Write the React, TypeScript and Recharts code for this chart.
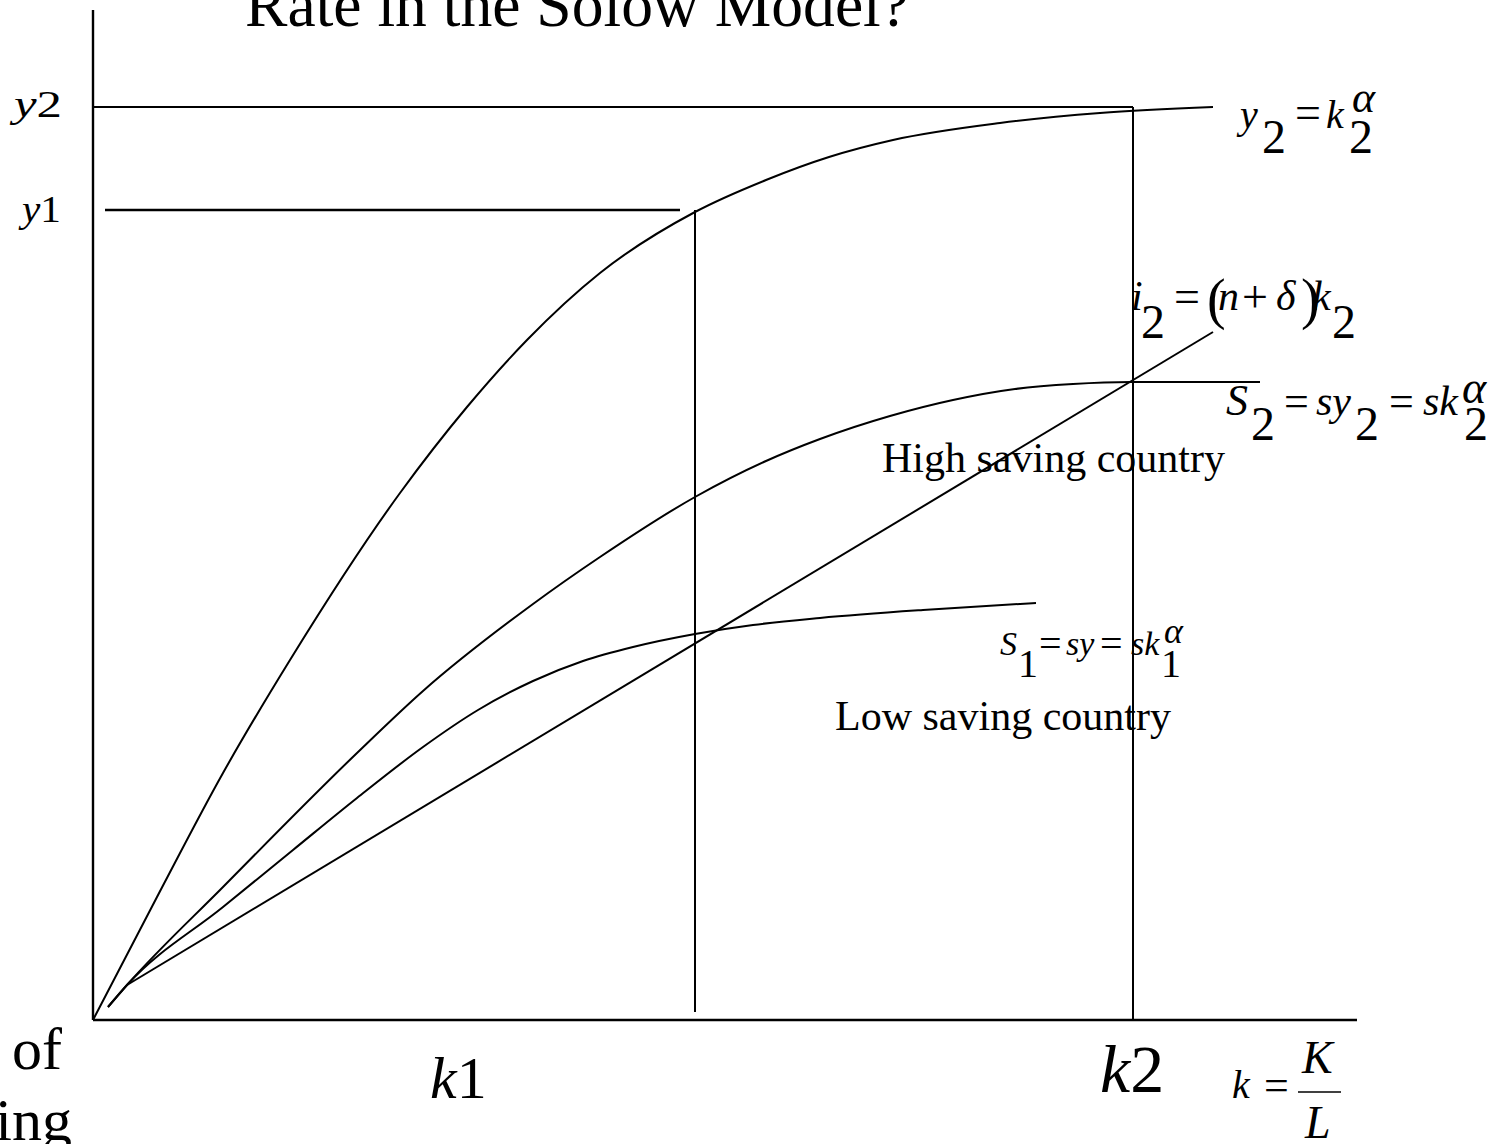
import { ComposedChart, Line, XAxis, YAxis, ReferenceLine } from "recharts";

// capital per worker k = K/L on the horizontal axis, per-worker output / saving on the vertical
const outputK = [0, 6.4, 13, 19.7, 30.7, 37.4, 43.4, 50.7, 60.2, 67.3, 73.6, 80, 90.7, 100.7, 112];
const outputY = [0, 12.3, 24.7, 36, 52.7, 61.3, 68, 74.7, 80.8, 84, 86.3, 88, 89.7, 90.7, 91.3];

const highSavingK = [1.5, 3.4, 13, 26.4, 33, 44, 50.7, 60.2, 67.3, 72.7, 79.7, 86, 92.2, 98, 103.8, 116.7];
const highSavingS = [1.3, 3.5, 13.3, 26.7, 32.9, 41.6, 46.3, 52.3, 55.9, 58.1, 60.4, 62, 63.1, 63.6, 63.8, 63.8];

const lowSavingK = [1.5, 3.4, 13, 20, 26.4, 33, 38.5, 44, 49, 54, 60.2, 66, 72.7, 83, 94.3];
const lowSavingS = [1.3, 3.5, 11.3, 17, 22.2, 27.3, 31, 33.9, 35.9, 37.3, 38.6, 39.5, 40.2, 41, 41.7];

const investK = [3.4, 112];
const investI = [3.5, 68.8];

// steady-state levels
const K1 = 60.2;
const K2 = 104;
const Y1 = 81;
const Y2 = 91.3;

const K_MAX = 126.4;
const Y_MAX = 101;

const zip = (ks: number[], vs: number[]) => ks.map((k, i) => ({ k, v: vs[i] }));

const outputData = zip(outputK, outputY);
const highData = zip(highSavingK, highSavingS);
const lowData = zip(lowSavingK, lowSavingS);
const investData = zip(investK, investI);

const SERIF = "'Liberation Serif', 'Times New Roman', serif";

type Piece = { t: string; x: number; y: number; fs: number; it?: boolean };

const eqY2: Piece[] = [
  { t: "y", x: 1240, y: 128, fs: 40, it: true },
  { t: "2", x: 1262, y: 153, fs: 48 },
  { t: "=", x: 1295, y: 128, fs: 46 },
  { t: "k", x: 1326, y: 128, fs: 40, it: true },
  { t: "α", x: 1352, y: 112, fs: 44, it: true },
  { t: "2", x: 1349, y: 153, fs: 48 },
];

const eqI2: Piece[] = [
  { t: "i", x: 1131, y: 310, fs: 42, it: true },
  { t: "2", x: 1141, y: 338, fs: 48 },
  { t: "=", x: 1174, y: 312, fs: 46 },
  { t: "(", x: 1207, y: 318, fs: 56 },
  { t: "n", x: 1218, y: 310, fs: 42, it: true },
  { t: "+", x: 1242, y: 312, fs: 46 },
  { t: "δ", x: 1276, y: 310, fs: 42, it: true },
  { t: ")", x: 1301, y: 318, fs: 56 },
  { t: "k", x: 1312, y: 310, fs: 42, it: true },
  { t: "2", x: 1332, y: 338, fs: 48 },
];

const eqS2: Piece[] = [
  { t: "S", x: 1226, y: 415, fs: 44, it: true },
  { t: "2", x: 1251, y: 440, fs: 48 },
  { t: "=", x: 1284, y: 416, fs: 44 },
  { t: "sy", x: 1316, y: 415, fs: 42, it: true },
  { t: "2", x: 1355, y: 440, fs: 48 },
  { t: "=", x: 1389, y: 416, fs: 44 },
  { t: "sk", x: 1423, y: 415, fs: 42, it: true },
  { t: "α", x: 1462, y: 403, fs: 46, it: true },
  { t: "2", x: 1464, y: 440, fs: 48 },
];

const eqS1: Piece[] = [
  { t: "S", x: 1000, y: 655, fs: 34, it: true },
  { t: "1", x: 1018, y: 677, fs: 40 },
  { t: "=", x: 1039, y: 657, fs: 40 },
  { t: "sy", x: 1066, y: 655, fs: 34, it: true },
  { t: "=", x: 1100, y: 657, fs: 40 },
  { t: "sk", x: 1131, y: 655, fs: 34, it: true },
  { t: "α", x: 1164, y: 643, fs: 36, it: true },
  { t: "1", x: 1161, y: 677, fs: 40 },
];

function Equation({ pieces }: { pieces: Piece[] }) {
  return (
    <g>
      {pieces.map((p, i) => (
        <text key={i} x={p.x} y={p.y} fontSize={p.fs} fontStyle={p.it ? "italic" : "normal"}>
          {p.t}
        </text>
      ))}
    </g>
  );
}

function Annotations() {
  return (
    <svg
      width={1512}
      height={1144}
      style={{ position: "absolute", left: 0, top: 0, pointerEvents: "none" }}
      fontFamily={SERIF}
      fill="#000"
    >
      <text x={245} y={26} fontSize={64} textLength={664} lengthAdjust="spacingAndGlyphs">
        Rate in the Solow Model?
      </text>

      {/* vertical axis levels */}
      <text x={14} y={117} fontSize={37} textLength={48} lengthAdjust="spacingAndGlyphs">
        <tspan fontStyle="italic">y</tspan>2
      </text>
      <text x={22} y={222} fontSize={37} textLength={39} lengthAdjust="spacingAndGlyphs">
        <tspan fontStyle="italic">y</tspan>1
      </text>

      {/* cut-off text at the left edge */}
      <text x={62} y={1069} fontSize={60} textAnchor="end">of</text>
      <text x={72} y={1140} fontSize={60} textAnchor="end">ing</text>

      {/* horizontal axis labels */}
      <text x={430} y={1098} fontSize={60}>
        <tspan fontStyle="italic">k</tspan>1
      </text>
      <text x={1100} y={1092} fontSize={68}>
        <tspan fontStyle="italic">k</tspan>2
      </text>
      <text x={1232} y={1098} fontSize={40} fontStyle="italic">k</text>
      <text x={1264} y={1100} fontSize={44}>=</text>
      <text x={1302} y={1073} fontSize={46} fontStyle="italic">K</text>
      <line x1={1298} x2={1341} y1={1092} y2={1092} stroke="#000" strokeWidth={1.5} />
      <text x={1305} y={1138} fontSize={46} fontStyle="italic">L</text>

      <Equation pieces={eqY2} />
      <Equation pieces={eqI2} />
      <Equation pieces={eqS2} />
      <Equation pieces={eqS1} />

      <text x={882} y={472} fontSize={42}>High saving country</text>
      <text x={835} y={730} fontSize={42}>Low saving country</text>
    </svg>
  );
}

const curve = { stroke: "#000", strokeWidth: 2, dot: false, activeDot: false, isAnimationActive: false } as const;

export default function App() {
  return (
    <div style={{ position: "absolute", left: 0, top: 0, width: 1512, height: 1144, background: "#fff", overflow: "hidden" }}>
      <ComposedChart width={1512} height={1144} margin={{ top: 10, right: 155, bottom: 124, left: 93 }}>
        <XAxis dataKey="k" type="number" domain={[0, K_MAX]} allowDataOverflow hide />
        <YAxis type="number" domain={[0, Y_MAX]} allowDataOverflow hide />

        {/* axes */}
        <ReferenceLine segment={[{ x: 0, y: 0 }, { x: K_MAX, y: 0 }]} stroke="#000" strokeWidth={2.4} ifOverflow="visible" />
        <ReferenceLine segment={[{ x: 0, y: 0 }, { x: 0, y: Y_MAX }]} stroke="#000" strokeWidth={2.4} ifOverflow="visible" />

        {/* steady-state guide lines */}
        <ReferenceLine segment={[{ x: 0, y: Y2 }, { x: K2, y: Y2 }]} stroke="#000" strokeWidth={2} ifOverflow="visible" />
        <ReferenceLine segment={[{ x: K2, y: 0 }, { x: K2, y: Y2 }]} stroke="#000" strokeWidth={2} ifOverflow="visible" />
        <ReferenceLine segment={[{ x: 1.2, y: Y1 }, { x: 58.7, y: Y1 }]} stroke="#000" strokeWidth={2.4} ifOverflow="visible" />
        <ReferenceLine segment={[{ x: K1, y: 0.8 }, { x: K1, y: Y1 }]} stroke="#000" strokeWidth={2} ifOverflow="visible" />

        <Line data={outputData} dataKey="v" type="monotone" {...curve} />
        <Line data={highData} dataKey="v" type="monotone" {...curve} />
        <Line data={lowData} dataKey="v" type="monotone" {...curve} />
        <Line data={investData} dataKey="v" type="linear" {...curve} />
      </ComposedChart>
      <Annotations />
    </div>
  );
}
